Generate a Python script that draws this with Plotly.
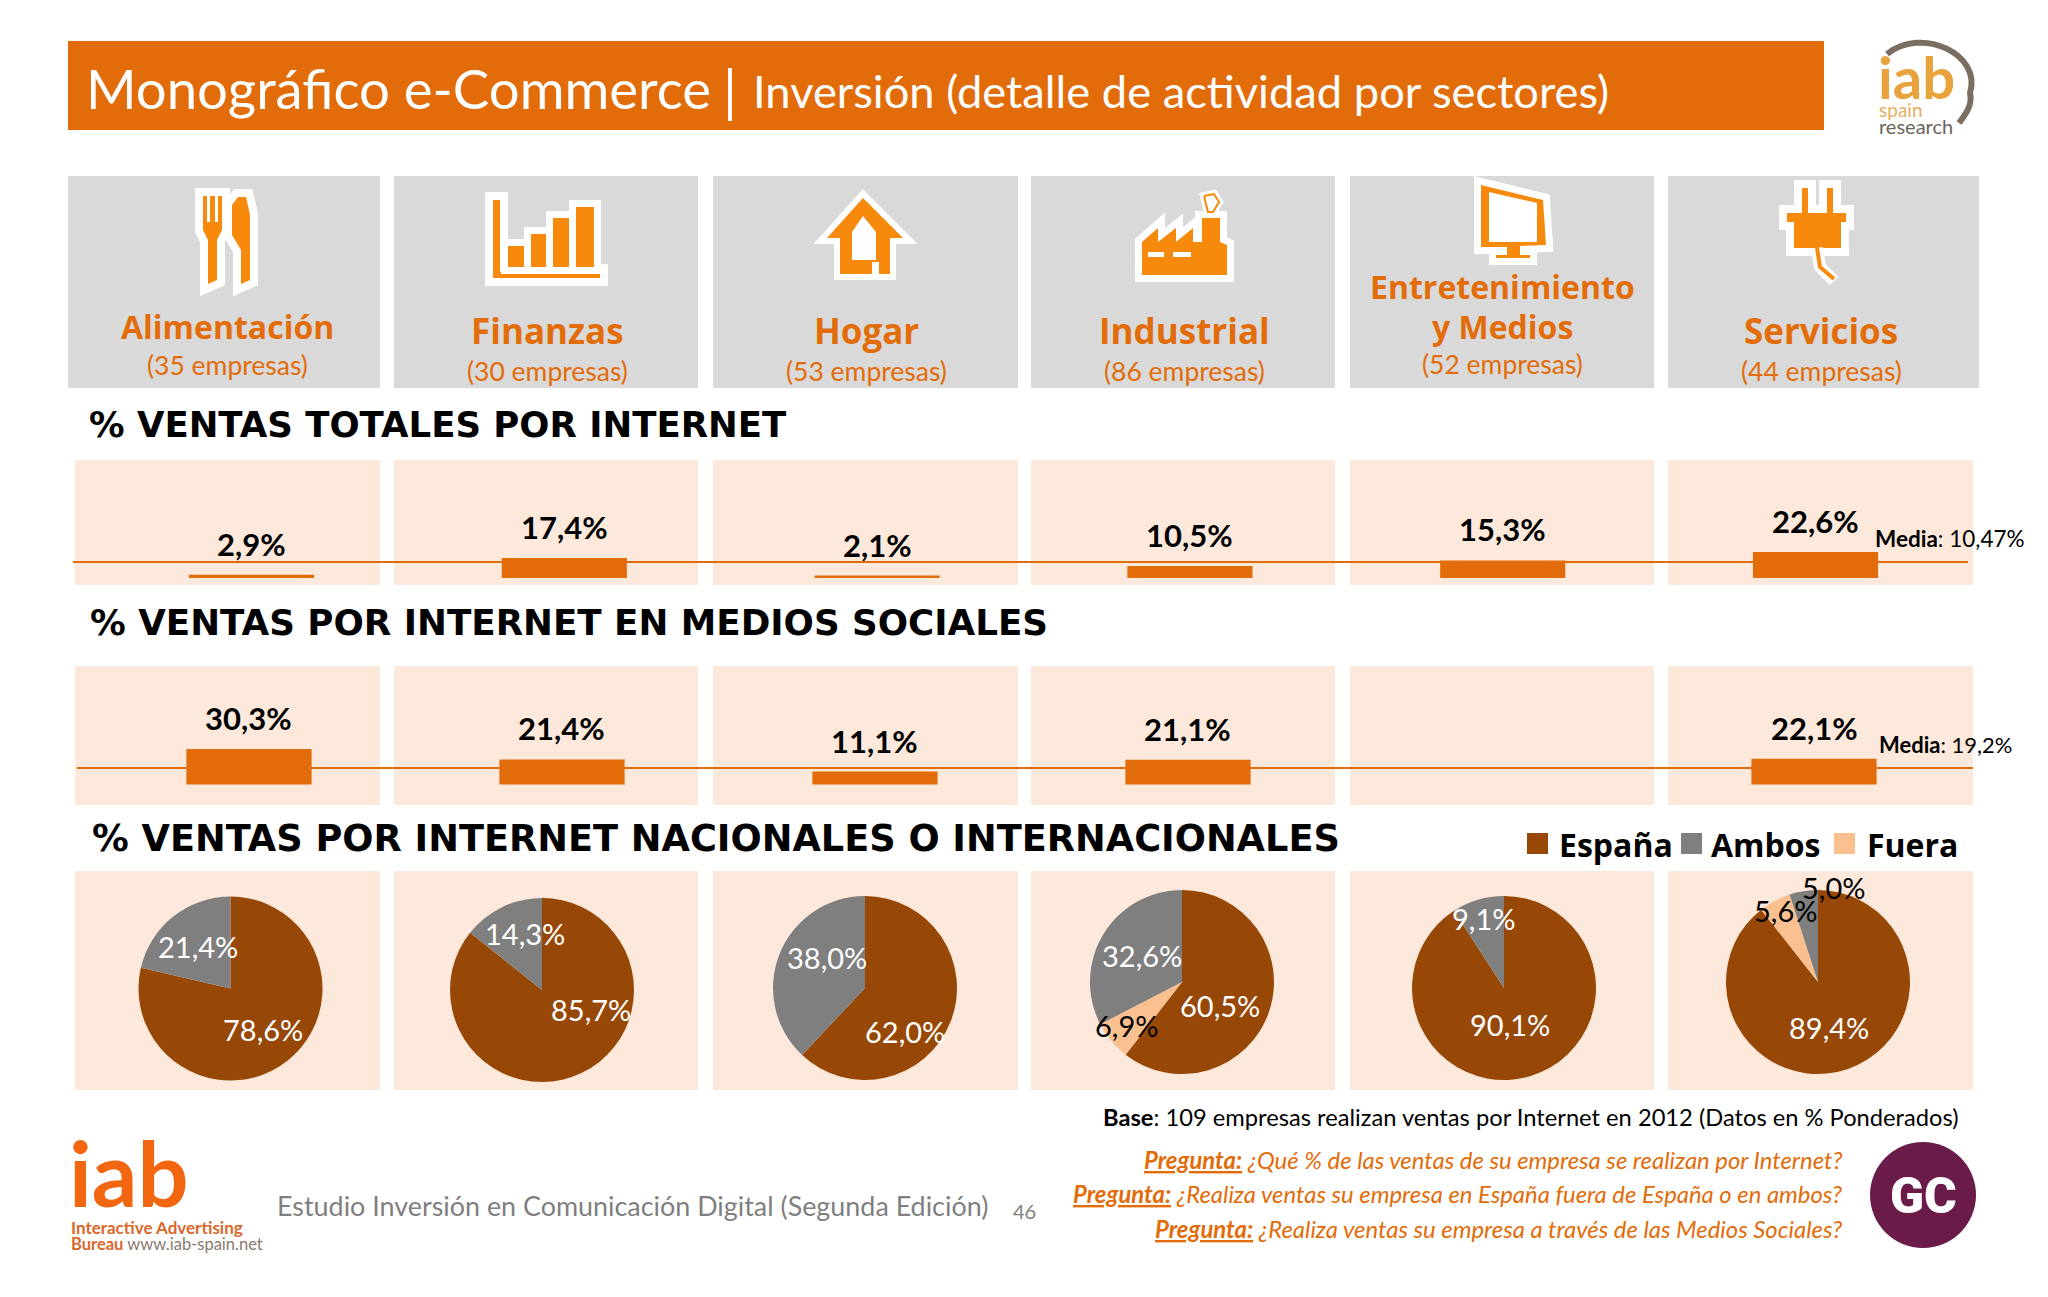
#!/usr/bin/env python
"""Monografico e-Commerce slide: sector panels, two bar rows and six pies."""
import plotly.graph_objects as go

W, H = 2048, 1297
OFF = 8  # the page body keeps its default margin
FONT = "Lato"
HEAVY = "Open Sans"
TITLE = "DejaVu Sans"

ORANGE = "#E36C0A"
ICON = "#F78A0C"
PANEL = "#FDE9DB"
GREY_PANEL = "#D9D9D9"
BROWN = "#974806"
GREY = "#7F7F7F"
PEACH = "#FAC090"

sectors = ["Alimentación", "Finanzas", "Hogar", "Industrial", "Entretenimiento y Medios", "Servicios"]
companies = ["(35 empresas)", "(30 empresas)", "(53 empresas)", "(86 empresas)", "(52 empresas)", "(44 empresas)"]

# % ventas totales por internet
total_sales = [2.9, 17.4, 2.1, 10.5, 15.3, 22.6]
total_labels = ["2,9%", "17,4%", "2,1%", "10,5%", "15,3%", "22,6%"]
total_media = "10,47%"
total_line = 13.9  # where the slide draws the line, it is not at 10,47

# % ventas por internet en medios sociales
social_sales = [30.3, 21.4, 11.1, 21.1, None, 22.1]
social_labels = ["30,3%", "21,4%", "11,1%", "21,1%", "", "22,1%"]
social_media = "19,2%"
social_line = 14.1  # same here

# % nacionales / internacionales, order as the slices run clockwise
pie_names = ["España", "Fuera", "Ambos"]
espana = [78.6, 85.7, 62.0, 60.5, 90.1, 89.4]
fuera = [0, 0, 0, 6.9, 0, 5.6]
ambos = [21.4, 14.3, 38.0, 32.6, 9.1, 5.0]


def px(x):
    return (x - OFF) / (W - OFF)


def py(y):
    return 1 - (y - OFF) / (H - OFF)


def path(points, close=True):
    s = "M " + " L ".join(f"{px(x):.5f},{py(y):.5f}" for x, y in points)
    return s + (" Z" if close else "")


fig = go.Figure()


def rect(x0, y0, x1, y1, color, layer="below"):
    fig.add_shape(type="rect", xref="paper", yref="paper", x0=px(x0), x1=px(x1), y0=py(y0), y1=py(y1),
                  fillcolor=color, line_width=0, layer=layer)


def text(x, y, s, size, color="black", anchor="center", weight=None, style=None, family=FONT):
    # left aligned annotations come out about 3 px to the right
    if anchor == "left":
        x -= 3
    fig.add_annotation(xref="paper", yref="paper", x=px(x), y=py(y), text=s, showarrow=False,
                       xanchor=anchor, yanchor="middle",
                       font=dict(family=family, size=size, color=color, weight=weight, style=style))


def icon(points, color=ICON, outline=True, width=12):
    # white sticker edge first, then the fill
    if outline:
        fig.add_shape(type="path", xref="paper", yref="paper", path=path(points), fillcolor="white",
                      line=dict(color="white", width=width))
    fig.add_shape(type="path", xref="paper", yref="paper", path=path(points), fillcolor=color, line_width=0)


def stroke(points, color=ICON, width=4):
    fig.add_shape(type="path", xref="paper", yref="paper", path=path(points, close=False),
                  line=dict(color=color, width=width))


# header
rect(68, 41, 1824, 130, ORANGE)
text(87, 88, "Monográfico e-Commerce", 54.5, "white", "left")
text(730, 90, "|", 56, "white")
text(754, 91, "Inversión (detalle de actividad por sectores)", 45.3, "white", "left")

# panels
panel_x = [(68, 380), (394, 698), (713, 1018), (1031, 1335), (1350, 1654), (1668, 1979)]
for i, (x0, x1) in enumerate(panel_x):
    rect(x0, 176, x1, 388, GREY_PANEL)
    left = 75 if i == 0 else x0
    right = 1973 if i == 5 else x1
    rect(left, 460, right, 585, PANEL)
    rect(left, 666, right, 805, PANEL)
    rect(left, 871, right, 1090, PANEL)

# sector names
name_x = [227, 547, 866, 1184, 1502, 1821]
name_y = [327, 330, 330, 330, 326, 330]
sub_y = [365, 371, 371, 371, 364, 371]
for i, name in enumerate(sectors):
    if i == 4:
        text(name_x[i], 286, "Entretenimiento", 32, ORANGE, weight=700, family=HEAVY)
        text(name_x[i], name_y[i], "y Medios", 32, ORANGE, weight=700, family=HEAVY)
    else:
        text(name_x[i], name_y[i], name, 35 if i else 32, ORANGE, weight=700, family=HEAVY)
    text(name_x[i], sub_y[i], companies[i], 26.5, ORANGE)

# fork and knife
icon([(203, 196), (207, 196), (207, 222), (210, 222), (210, 196), (215, 196), (215, 222), (218, 222), (218, 196),
      (222, 196), (222, 230), (217, 240), (217, 280), (208, 284), (208, 240), (203, 230)], width=16)
icon([(238, 197), (246, 197), (250, 215), (250, 280), (241, 284), (241, 250), (232, 235), (232, 205)], width=16)
# bar chart
icon([(493, 200), (500, 200), (500, 272), (600, 272), (600, 278), (493, 278)], width=16)
for x0, top in [(508, 246), (531, 234), (553, 218), (576, 207)]:
    icon([(x0, top), (x0 + 18, top), (x0 + 18, 267), (x0, 267)], width=14)
# house
icon([(863, 198), (903, 238), (890, 238), (890, 274), (840, 274), (840, 238), (827, 238)], width=12)
icon([(863, 216), (876, 232), (876, 260), (852, 260), (852, 232)], "white", outline=False)
icon([(872, 262), (879, 262), (879, 276), (872, 276)], "white", outline=False)
# factory
icon([(1142, 242), (1158, 228), (1158, 242), (1176, 228), (1176, 242), (1193, 228), (1193, 242), (1202, 242),
      (1202, 218), (1220, 218), (1220, 242), (1227, 245), (1227, 275), (1142, 275)], width=14)
icon([(1204, 196), (1214, 194), (1219, 202), (1213, 212), (1208, 212)], "white", outline=True, width=8)
stroke([(1204, 196), (1214, 194), (1219, 202), (1213, 212), (1208, 212), (1204, 196)], width=2)
rect(1148, 252, 1164, 257, "white", "above")
rect(1173, 252, 1191, 257, "white", "above")
# monitor
icon([(1481, 185), (1543, 200), (1546, 245), (1520, 246), (1520, 255), (1530, 255), (1530, 258), (1496, 258),
      (1496, 255), (1507, 255), (1507, 247), (1481, 247)], width=14)
icon([(1489, 192), (1537, 203), (1537, 242), (1489, 242)], "white", outline=False)
# plug
icon([(1802, 188), (1808, 188), (1808, 213), (1827, 213), (1827, 188), (1833, 188), (1833, 213), (1846, 213),
      (1846, 222), (1841, 222), (1841, 248), (1794, 248), (1794, 222), (1787, 222), (1787, 213), (1802, 213)], width=16)
fig.add_shape(type="path", xref="paper", yref="paper", line=dict(color="white", width=12),
              path=path([(1817, 248), (1820, 267), (1834, 281)], close=False))
stroke([(1817, 248), (1820, 267), (1834, 279)], width=4)

# section titles
text(90, 424, "% VENTAS TOTALES POR INTERNET", 35.5, "black", "left", weight=700, family=TITLE)
text(91, 622, "% VENTAS POR INTERNET EN MEDIOS SOCIALES", 35.7, "black", "left", weight=700, family=TITLE)
text(93, 838, "% VENTAS POR INTERNET NACIONALES O INTERNACIONALES", 36.7, "black", "left", weight=700, family=TITLE)

# bar rows: domain and range chosen so one category step is about 313 px
fig.add_trace(go.Bar(x=sectors, y=total_sales, width=0.4, marker=dict(color=ORANGE, line_width=0),
                     xaxis="x", yaxis="y", showlegend=False))
fig.add_trace(go.Bar(x=sectors, y=social_sales, width=0.4, marker=dict(color=ORANGE, line_width=0),
                     xaxis="x2", yaxis="y2", showlegend=False))

axis_off = dict(visible=False, fixedrange=True)
fig.update_layout(
    xaxis=dict(domain=[px(73), px(1968)], range=[-0.5707, 5.4875], **axis_off),
    yaxis=dict(domain=[py(585), py(460)], range=[-6.1, 102.6], **axis_off),
    xaxis2=dict(domain=[px(77), px(1973)], range=[-0.5495, 5.508], anchor="y2", **axis_off),
    yaxis2=dict(domain=[py(805), py(666)], range=[-17.5, 101.3], anchor="x2", **axis_off),
)

fig.add_shape(type="line", xref="x domain", yref="y", x0=0, x1=1, y0=total_line, y1=total_line,
              line=dict(color=ORANGE, width=2))
fig.add_shape(type="line", xref="x2 domain", yref="y2", x0=0, x1=1, y0=social_line, y1=social_line,
              line=dict(color=ORANGE, width=2))

for xa, ya, vals, labels in [("x", "y", total_sales, total_labels), ("x2", "y2", social_sales, social_labels)]:
    for cat, v, lab in zip(sectors, vals, labels):
        if v is None:
            continue
        fig.add_annotation(xref=xa, yref=ya, x=cat, y=v, text=lab, showarrow=False, yshift=31, yanchor="middle",
                           font=dict(family=FONT, size=31, color="black", weight=700))

text(1876, 538, f"<b>Media</b>: {total_media}", 22.5, anchor="left")
text(1880, 744, f"<b>Media</b>: {social_media}", 22, anchor="left")

# pies
pie_centers = [(230.5, 988.5), (542, 990), (865, 988), (1182, 982), (1504, 988), (1818, 982)]
PIE_R = 92
for (cx, cy), a, b, c in zip(pie_centers, espana, fuera, ambos):
    fig.add_trace(go.Pie(labels=pie_names, values=[a, b, c], sort=False, direction="clockwise", rotation=0,
                         textinfo="none", showlegend=False, marker=dict(colors=[BROWN, PEACH, GREY], line_width=0),
                         domain=dict(x=[px(cx - PIE_R), px(cx + PIE_R)], y=[py(cy + PIE_R), py(cy - PIE_R)])))

pie_text = [
    (198, 948, "21,4%", "white"), (263, 1031, "78,6%", "white"),
    (525, 935, "14,3%", "white"), (591, 1011, "85,7%", "white"),
    (827, 959, "38,0%", "white"), (905, 1033, "62,0%", "white"),
    (1142, 957, "32,6%", "white"), (1220, 1007, "60,5%", "white"), (1126, 1027, "6,9%", "black"),
    (1483, 920, "9,1%", "white"), (1510, 1026, "90,1%", "white"),
    (1833, 889, "5,0%", "black"), (1785, 912, "5,6%", "black"), (1829, 1029, "89,4%", "white"),
]
for x, y, s, color in pie_text:
    text(x, y - 1.5, s, 29, color)

# legend, drawn by hand to keep the slide's spacing
for x0, name, color, tx in [(1527, "España", BROWN, 1560), (1681, "Ambos", GREY, 1712), (1834, "Fuera", PEACH, 1868)]:
    rect(x0, 833, x0 + 21, 854, color, "above")
    text(tx, 844, name, 32, anchor="left", weight=700, family=HEAVY)

# footer
text(1104, 1117, "<b>Base</b>: 109 empresas realizan ventas por Internet en 2012 (Datos en % Ponderados)", 23.7, anchor="left")
questions = ["¿Qué % de las ventas de su empresa se realizan por Internet?",
             "¿Realiza ventas su empresa en España fuera de España o en ambos?",
             "¿Realiza ventas su empresa a través de las Medios Sociales?"]
for y, q in zip([1159.5, 1193.5, 1228.5], questions):
    text(1844, y, f"<b><u>Pregunta:</u></b> {q}", 23.85, ORANGE, "right", style="italic")

text(278, 1205, "Estudio Inversión en Comunicación Digital (Segunda Edición)", 26.9, GREY, "left")
text(1024, 1211, "46", 20, GREY)

# iab logos
text(70, 1172, "iab", 90, "#F2660F", "left", weight=700)
text(72, 1227, "Interactive Advertising", 17, "#D9682A", "left", weight=700)
text(72, 1244, "<b>Bureau</b> <span style='color:#8a7a70'>www.iab-spain.net</span>", 16.5, "#D9682A", "left")

text(1879, 76, "iab", 58, "#E8A33D", "left", weight=700)
text(1880, 109, "spain", 19, "#E0B060", "left")
text(1880, 126, "research", 20, "#6B6459", "left")
fig.add_shape(type="path", xref="paper", yref="paper", line=dict(color="#7A6E60", width=6),
              path=f"M {px(1887)},{py(54)} C {px(1922)},{py(26)} {px(1982)},{py(54)} {px(1970)},{py(93)} "
                   f"C {px(1973)},{py(105)} {px(1965)},{py(115)} {px(1959)},{py(123)}")

fig.add_shape(type="circle", xref="paper", yref="paper", x0=px(1870), x1=px(1976), y0=py(1248), y1=py(1142),
              fillcolor="#6A1B47", line_width=0)
text(1923, 1196, "GC", 50, "white", weight=900, family="Roboto")

fig.update_layout(width=W - OFF, height=H - OFF, margin=dict(l=0, r=0, t=0, b=0), paper_bgcolor="white",
                  plot_bgcolor="rgba(0,0,0,0)", barmode="overlay")

fig.write_html("out.html")
